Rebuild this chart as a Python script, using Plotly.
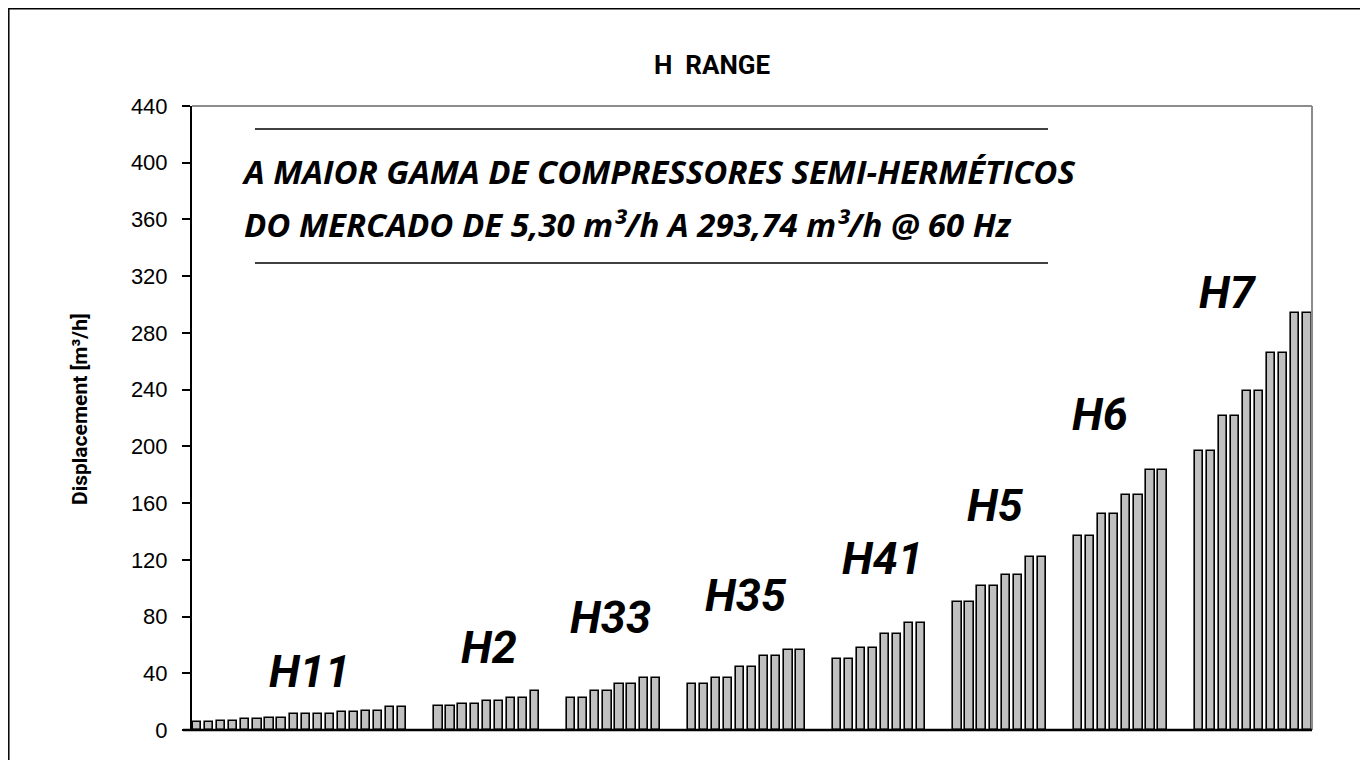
import plotly.graph_objects as go

# ---- data -------------------------------------------------------------
GROUPS = ["H11", "H2", "H33", "H35", "H41", "H5", "H6", "H7"]
H11 = [5.3, 5.3, 6.3, 6.3, 7.5, 7.5, 8.7, 8.7, 11.2, 11.2, 11.2, 11.2, 12.4, 12.4, 13.6, 13.6, 16.0, 16.0]
H2 = [16.8, 16.8, 18.0, 18.0, 20.4, 20.4, 22.7, 22.7, 27.4]
H33 = [22.7, 22.7, 27.4, 27.4, 32.1, 32.1, 36.8, 36.8]
H35 = [32.1, 32.1, 36.8, 36.8, 44.3, 44.3, 51.9, 51.9, 56.1, 56.1]
H41 = [50.2, 50.2, 57.7, 57.7, 67.4, 67.4, 75.6, 75.6]
H5 = [90.2, 90.2, 101.3, 101.3, 109.5, 109.5, 122.0, 122.0]
H6 = [136.5, 136.5, 152.1, 152.1, 165.5, 165.5, 183.1, 183.1]
H7 = [196.8, 196.8, 221.3, 221.3, 239.2, 239.2, 265.5, 265.5, 293.74, 293.74]
SERIES = [H11, H2, H33, H35, H41, H5, H6, H7]
Y_TICKS = [0, 40, 80, 120, 160, 200, 240, 280, 320, 360, 400, 440]

TITLE = "H  RANGE"
Y_TITLE = "Displacement [m³/h]"
LINE1 = "A MAIOR GAMA DE COMPRESSORES SEMI-HERMÉTICOS"
LINE2 = "DO MERCADO DE 5,30 m³/h A 293,74 m³/h @ 60 Hz"

# ---- build x slots (2 empty slots between groups) ---------------------
GAP = 2
xs, ys, centers = [], [], []
pos = 0
for vals in SERIES:
    start = pos
    for v in vals:
        xs.append(pos)
        ys.append(v)
        pos += 1
    centers.append((start + pos - 1) / 2)
    pos += GAP
last = pos - GAP - 1

COND = "Roboto, Liberation Sans, sans-serif"

fig = go.Figure()
fig.add_trace(go.Bar(
    x=xs, y=ys, width=0.68,
    marker=dict(color="#C0C0C0", line=dict(color="black", width=1.6)),
    showlegend=False, hoverinfo="y",
))

OFF = 8  # page body margin
W, H = 1360, 752
L, R, T, B = 184, 56, 98, 30
pw, ph = W - L - R, H - T - B


def px(x):
    return (x - OFF - L) / pw


def py(y):
    return (H - B - (y - OFF)) / ph


shapes = [
    # outer frame
    dict(type="rect", xref="paper", yref="paper", x0=px(8.8), x1=px(1366), y0=py(775), y1=py(8.8),
         line=dict(color="black", width=1.5), layer="below"),
    # plot area top & right (gray)
    dict(type="line", xref="paper", yref="paper", x0=0, x1=1, y0=1, y1=1, line=dict(color="#8c8c8c", width=2)),
    dict(type="line", xref="paper", yref="paper", x0=1, x1=1, y0=0, y1=1, line=dict(color="#8c8c8c", width=2)),
    # x axis line
    dict(type="line", xref="paper", yref="paper", x0=px(183), x1=1, y0=0, y1=0, line=dict(color="black", width=2.5)),
    # decorative rules around the subtitle
    dict(type="line", xref="paper", yref="paper", x0=px(255), x1=px(1048), y0=py(129), y1=py(129), line=dict(color="black", width=1.6)),
    dict(type="line", xref="paper", yref="paper", x0=px(255), x1=px(1048), y0=py(263), y1=py(263), line=dict(color="black", width=1.6)),
]

annotations = [
    dict(text=TITLE, xref="paper", yref="paper", x=px(712), y=py(65), xanchor="center", yanchor="middle",
         showarrow=False, font=dict(family=COND, size=26, color="black", weight="bold")),
    dict(text=Y_TITLE, xref="paper", yref="paper", x=px(80), y=py(409), xanchor="center", yanchor="middle",
         showarrow=False, textangle=-90,
         font=dict(family=COND, size=21, color="black", weight="bold")),
    dict(text=LINE1, xref="paper", yref="paper", x=px(240), y=py(172), xanchor="left", yanchor="middle",
         showarrow=False, font=dict(family="Open Sans", size=33, color="black", weight="bold", style="italic")),
    dict(text=LINE2, xref="paper", yref="paper", x=px(242), y=py(224), xanchor="left", yanchor="middle",
         showarrow=False, font=dict(family="Open Sans", size=33, color="black", weight="bold", style="italic")),
]

LABEL_Y = [41.6, 58.2, 79.4, 94.9, 121, 158.4, 222.6, 308.8]
LABEL_XSHIFT = [10, 2, -3, 0, 4, -4, -20, -25]
for name, cx, ly, xsft in zip(GROUPS, centers, LABEL_Y, LABEL_XSHIFT):
    annotations.append(dict(text=name, x=cx, y=ly, xref="x", yref="y", xshift=xsft, showarrow=False,
                            xanchor="center", yanchor="middle",
                            font=dict(family=COND, size=45, color="black", weight="bold", style="italic")))

fig.update_layout(
    width=W, height=H,
    margin=dict(l=L, r=R, t=T, b=B),
    paper_bgcolor="white", plot_bgcolor="white",
    shapes=shapes, annotations=annotations,
    bargap=0,
    xaxis=dict(range=[-0.42, last + 0.38], showticklabels=False, showgrid=False, zeroline=False,
               showline=False, ticks=""),
    yaxis=dict(range=[0, 440], tickvals=Y_TICKS, showgrid=False, zeroline=False,
               showline=True, linecolor="black", linewidth=2, ticks="outside", ticklen=8,
               tickwidth=1.5, tickcolor="black", ticklabelstandoff=10,
               tickfont=dict(family="Liberation Sans, Arial, sans-serif", size=22, color="black")),
)

fig.write_html("out.html")
